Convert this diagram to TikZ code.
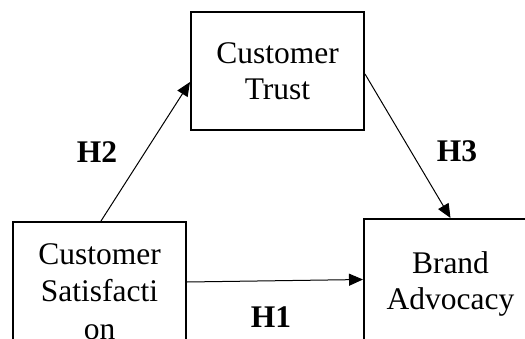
\documentclass[tikz,border=0pt]{standalone}
\usepackage{fontspec}
\setmainfont{Liberation Serif}
\usetikzlibrary{arrows.meta, positioning}

\begin{document}
\begin{tikzpicture}[x=1pt, y=1pt,
    box/.style={draw, line width=2pt, minimum width=173pt, minimum height=118pt, inner sep=0pt},
    boxtext/.style={anchor=north, align=center, inner sep=0pt, font=\fontsize{31.5}{36.5}\selectfont},
    hyp/.style={inner sep=0pt, font=\fontsize{31.5}{36.5}\selectfont\bfseries},
    link/.style={line width=1pt, -{Triangle[length=14pt, width=12pt]}}]

    %% Frame
    \useasboundingbox (0,0) rectangle (525,338);
    \clip (0,0) rectangle (525,338);

    %% --- Boxes ---
    \node[box] (trust) at (277.5,267) {};
    \node[box, minimum height=130pt] (brand) at (450.5,54) {};
    \node[box, minimum height=130pt] (sat) at (99.5,51) {};

    %% --- Box texts ---
    \node[boxtext, below=31pt of trust.north] (trusttxt) {Customer\\Trust};
    \node[boxtext, below=33pt of brand.north] (brandtxt) {Brand\\Advocacy};
    \node[boxtext, below=22pt of sat.north, font=\fontsize{31.5}{37.5}\selectfont] (sattxt) {Customer\\Satisfacti\\on};

    %% --- Paths ---
    \draw[link] ([yshift=5pt]sat.east) -- ([yshift=4.5pt]brand.west);
    \draw[link] ([xshift=1.5pt]sat.north) -- ([yshift=-11pt]trust.west);
    \draw[link] ([yshift=-3pt]trust.east) -- (brand.north);

    %% --- Hypotheses ---
    \node[hyp] (h1) at (271,21) {H1};
    \node[hyp] (h2) at (97,186) {H2};
    \node[hyp] (h3) at (457,187) {H3};

\end{tikzpicture}
\end{document}
